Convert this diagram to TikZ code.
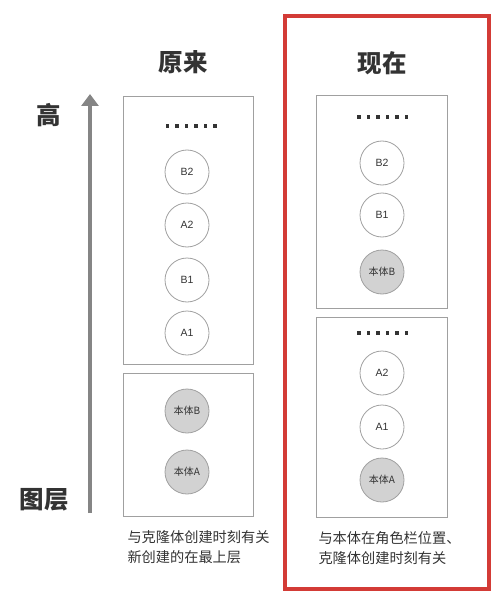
\documentclass[tikz,border=0pt]{standalone}
\usepackage{fontspec}
\setmainfont{Noto Sans CJK SC}
\newfontfamily\latinfont{Liberation Sans}
\usetikzlibrary{arrows.meta}
\definecolor{boxgray}{HTML}{A0A0A0}
\definecolor{fillgray}{HTML}{D2D2D2}
\definecolor{arrowgray}{HTML}{858585}
\definecolor{redframe}{HTML}{D33B36}
\definecolor{txt}{HTML}{333333}
\tikzset{
  layerbox/.style={draw=boxgray, line width=0.8pt},
  plain/.style={circle, draw=boxgray, line width=0.8pt, minimum size=44pt, inner sep=0pt, font=\latinfont\fontsize{10.5}{12}\selectfont, text=txt},
  body/.style={plain, fill=fillgray, font=\fontsize{10}{12}\selectfont},
  title/.style={font=\bfseries\fontsize{24.5}{28}\selectfont, text=txt},
  caption/.style={font=\fontsize{14.2}{16}\selectfont, text=txt, anchor=west},
  dotsq/.style={fill=txt, minimum size=3.3pt, inner sep=0pt},
}
\begin{document}
\begin{tikzpicture}[x=1pt,y=-1pt]
\useasboundingbox (0,0) rectangle (502,604);
% red frame
\draw[redframe, line width=4pt] (285,16) rectangle (489,589);
% titles
\node[title] (t1) at (183,62) {原来};
\node[title] (t2) at (382,63) {现在};
\node[title] (hi) at (49,115) {高};
\node[title] (lo) at (44,500) {图层};
% arrow
\coordinate (abot) at (90,513);
\coordinate (atop) at (90,94);
\draw[arrowgray, line width=3.5pt, -{Triangle[length=12pt,width=17pt]}] (abot) -- (atop);
% left boxes
\draw[layerbox] (123,96) rectangle (253,364);
\draw[layerbox] (123,373) rectangle (253,516);
\foreach \i in {0,...,5} \node[dotsq] (ld\i) at (167.5+9.5*\i,126) {};
\node[plain] (lB2) at (187,172) {B2};
\node[plain] (lA2) at (187,225) {A2};
\node[plain] (lB1) at (187,280) {B1};
\node[plain] (lA1) at (187,333) {A1};
\node[body] (lbB) at (187,411) {本体B};
\node[body] (lbA) at (187,472) {本体A};
\node[caption] (c1) at (124,537) {与克隆体创建时刻有关};
\node[caption] (c2) at (124,557) {新创建的在最上层};
% right boxes
\draw[layerbox] (316,95) rectangle (447,308);
\draw[layerbox] (316,317) rectangle (447,517);
\foreach \i in {0,...,5} \node[dotsq] (rd\i) at (359+9.5*\i,117) {};
\node[plain] (rB2) at (382,163) {B2};
\node[plain] (rB1) at (382,215) {B1};
\node[body] (rbB) at (382,272) {本体B};
\foreach \i in {0,...,5} \node[dotsq] (re\i) at (359+9.5*\i,333) {};
\node[plain] (rA2) at (382,373) {A2};
\node[plain] (rA1) at (382,427) {A1};
\node[body] (rbA) at (382,480) {本体A};
\node[caption] (c3) at (315,538) {与本体在角色栏位置、};
\node[caption] (c4) at (315,558) {克隆体创建时刻有关};
\end{tikzpicture}
\end{document}
